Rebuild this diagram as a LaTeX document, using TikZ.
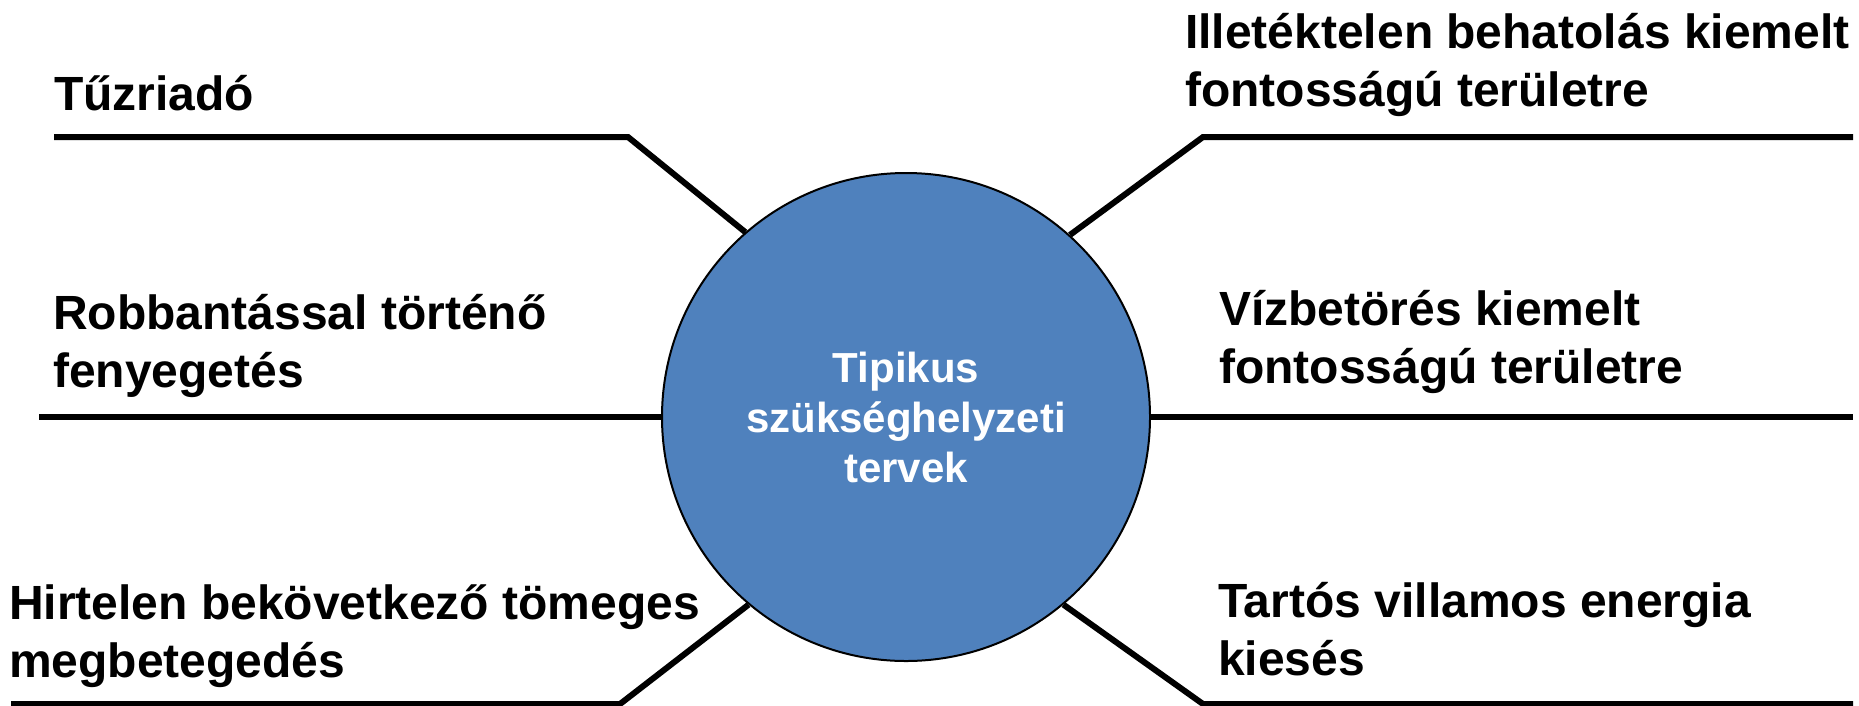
\documentclass[tikz,border=0pt]{standalone}
\usepackage{fontspec}
\setmainfont{Liberation Sans}
\usetikzlibrary{backgrounds}
\definecolor{planblue}{RGB}{79,129,189}

\begin{document}
\begin{tikzpicture}[
    x=1pt, y=-1pt,
    plan/.style={
        circle,
        draw=black,
        line width=2pt,
        fill=planblue,
        minimum size=488pt,
        inner sep=0pt,
        align=center,
        text=white,
        font=\bfseries\fontsize{42}{50}\selectfont
    },
    topic/.style={
        anchor=base west,
        inner sep=0pt,
        align=left,
        font=\bfseries\fontsize{48}{57.6}\selectfont
    },
    leg/.style={line width=6pt}
]
    \useasboundingbox (0,0) rectangle (1859,705);

    \node[plan] (plan) at (906,417) {Tipikus\\szükséghelyzeti\\tervek};

    \node[topic] (fire) at (54,110) {Tűzriadó};
    \node[topic] (bomb) at (53,387) {Robbantással történő\\fenyegetés};
    \node[topic] (illness) at (9,677)
        {Hirtelen bekövetkező tömeges\\megbetegedés};
    \node[topic] (intrusion) at (1185,106)
        {Illetéktelen behatolás kiemelt\\fontosságú területre};
    \node[topic] (flood) at (1219,383)
        {Vízbetörés kiemelt\\fontosságú területre};
    \node[topic] (power) at (1218,675)
        {Tartós villamos energia\\kiesés};

    \coordinate (fire-end) at (54,137);
    \coordinate (fire-bend) at (628,137);
    \coordinate (bomb-end) at (39,417);
    \coordinate (illness-end) at (11,704);
    \coordinate (illness-bend) at (620,704);
    \coordinate (intrusion-bend) at (1203,137);
    \coordinate (intrusion-end) at (1853,137);
    \coordinate (flood-end) at (1853,417);
    \coordinate (power-bend) at (1203,704);
    \coordinate (power-end) at (1853,704);

    \begin{scope}[on background layer]
        \draw[leg] (fire-end) -- (fire-bend) -- (plan.131);
        \draw[leg] (bomb-end) -- (plan.west);
        \draw[leg] (illness-end) -- (illness-bend) -- (plan.230);
        \draw[leg] (plan.48) -- (intrusion-bend) -- (intrusion-end);
        \draw[leg] (plan.east) -- (flood-end);
        \draw[leg] (plan.310) -- (power-bend) -- (power-end);
    \end{scope}
\end{tikzpicture}
\end{document}
